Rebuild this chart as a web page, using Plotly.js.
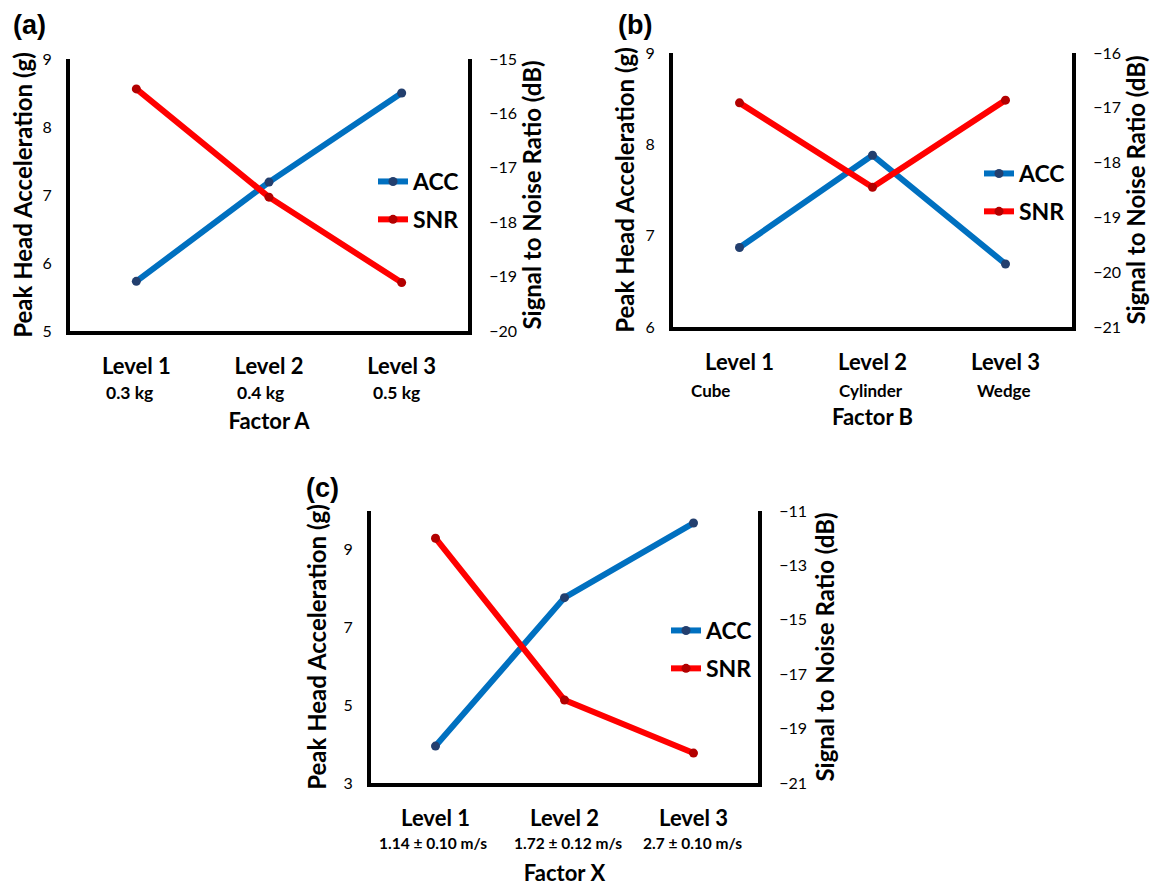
<!DOCTYPE html>
<html>
<head>
<meta charset="utf-8">
<script src="https://cdn.plot.ly/plotly-3.0.1.min.js"></script>
<style>html,body{margin:0;padding:0;background:#fff}#chart{width:1151px;height:887px}</style>
</head>
<body>
<div id="chart"></div>
<script>
// ---- data ----
const levels = ['Level 1', 'Level 2', 'Level 3'];
const subA = ['0.3 kg', '0.4 kg', '0.5 kg'];
const subB = ['Cube', 'Cylinder', 'Wedge'];
const subC = ['1.14 ± 0.10 m/s', '1.72 ± 0.12 m/s', '2.7 ± 0.10 m/s'];
const accA = [5.73, 7.19, 8.50];
const snrA = [-15.55, -17.54, -19.11];
const accB = [6.87, 7.88, 6.69];
const snrB = [-16.91, -18.45, -16.86];
const accC = [3.95, 7.77, 9.69];
const snrC = [-12.0, -17.95, -19.9];
const factorTitles = ['Factor A', 'Factor B', 'Factor X'];
const panelLabels = ['(a)', '(b)', '(c)'];

// ---- styling ----
const W = 1151, H = 887;
const FONT = 'Lato, "Open Sans", sans-serif';
const BLUE = '#0070C0', BLUE_M = '#233F6E';
const RED = '#FF0000', RED_M = '#B30000';

function px(x) { return x / W; }
function py(y) { return 1 - y / H; }

const panels = [
  {acc: accA, snr: snrA, sub: subA, box: [70, 468, 59, 331], left: [5, 9, 1], right: [-20, -15, 1],
   leg: [373, 160], subSize: 17.5, subY: 392, subShift: [-7, -9, -5], lso: 4, rso: 8.5},
  {acc: accB, snr: snrB, sub: subB, box: [673, 1072, 53, 327], left: [6, 9, 1], right: [-21, -16, 1],
   leg: [979, 152], subSize: 17, subY: 390, subShift: [-29, -2, -2], lso: 5, rso: 9.5},
  {acc: accC, snr: snrC, sub: subC, box: [371, 758, 511, 783], left: [3, 10, 2], right: [-21, -11, 2],
   leg: [666, 609], subSize: 15.5, subY: 843, subShift: [-2, 3, -1], lso: 11, rso: 12.5}
];

const data = [];
const layout = {
  width: W, height: H,
  margin: {l: 0, r: 0, t: 0, b: 0},
  paper_bgcolor: '#fff', plot_bgcolor: 'rgba(0,0,0,0)',
  font: {family: FONT, color: '#000'},
  annotations: []
};

panels.forEach((p, i) => {
  const xa = i === 0 ? 'x' : 'x' + (i + 1);
  const yl = i === 0 ? 'y' : 'y' + (2 * i + 1);
  const yr = 'y' + (2 * i + 2);
  const legName = i === 0 ? 'legend' : 'legend' + (i + 1);
  data.push({
    type: 'scatter', mode: 'lines+markers', name: 'ACC',
    x: levels, y: p.acc, xaxis: xa, yaxis: yl, legend: legName, legendgroup: 'acc' + i,
    line: {color: BLUE, width: 6}, marker: {color: BLUE_M, size: 9}
  });
  data.push({
    type: 'scatter', mode: 'lines+markers', name: 'SNR',
    x: levels, y: p.snr, xaxis: xa, yaxis: yr, legend: legName, legendgroup: 'snr' + i,
    line: {color: RED, width: 6}, marker: {color: RED_M, size: 9}
  });
  const [x0, x1, y0, y1] = p.box;
  const xKey = i === 0 ? 'xaxis' : 'xaxis' + (i + 1);
  const ylKey = 'yaxis' + (i === 0 ? '' : (2 * i + 1));
  const yrKey = 'yaxis' + (2 * i + 2);
  layout[xKey] = {
    domain: [px(x0), px(x1)], anchor: yl, type: 'category',
    range: [-0.5, 2.5], showgrid: false, zeroline: false,
    showline: true, linewidth: 4, linecolor: '#000', ticks: '',
    tickvals: levels, ticktext: levels,
    tickfont: {family: FONT, size: 22, weight: 'bold', color: '#000'},
    ticklabelstandoff: 13,
    title: {text: factorTitles[i], font: {family: FONT, size: 22, weight: 'bold', color: '#000'}, standoff: 36},
    fixedrange: true, automargin: false
  };
  layout[ylKey] = {
    domain: [py(y1), py(y0)], anchor: xa, range: [p.left[0], p.left[1]],
    tick0: p.left[0], dtick: p.left[2],
    showgrid: false, zeroline: false, showline: true, linewidth: 4, linecolor: '#000', ticks: '',
    tickfont: {family: FONT, size: 16, color: '#000'}, ticklabelstandoff: 11,
    title: {text: 'Peak Head Acceleration (g)', font: {family: FONT, size: 24, weight: 'bold', color: '#000'}, standoff: p.lso},
    fixedrange: true, automargin: false
  };
  layout[yrKey] = {
    overlaying: yl, side: 'right', anchor: xa, range: [p.right[0], p.right[1]],
    tick0: p.right[0], dtick: p.right[2],
    showgrid: false, zeroline: false, showline: true, linewidth: 4, linecolor: '#000', ticks: '',
    tickfont: {family: FONT, size: 16, color: '#000'}, ticklabelstandoff: 14,
    title: {text: 'Signal to Noise Ratio (dB)', font: {family: FONT, size: 24, weight: 'bold', color: '#000'}, standoff: p.rso},
    fixedrange: true, automargin: false
  };
  layout[legName] = {
    x: px(p.leg[0]), y: py(p.leg[1]), xanchor: 'left', yanchor: 'top',
    bgcolor: 'rgba(0,0,0,0)', borderwidth: 0,
    font: {family: FONT, size: 23, weight: 'bold', color: '#000'},
    traceorder: 'grouped', tracegroupgap: 5
  };
  p.sub.forEach((s, k) => {
    layout.annotations.push({
      text: s, xref: xa, yref: 'paper', x: levels[k], y: py(p.subY),
      xanchor: 'center', yanchor: 'middle', xshift: p.subShift[k], showarrow: false,
      font: {family: FONT, size: p.subSize, weight: 'bold', color: '#000'}
    });
  });
});

const labelPos = [[29, 25], [635, 25], [322, 488]];
panelLabels.forEach((t, i) => {
  layout.annotations.push({
    text: t, xref: 'paper', yref: 'paper', x: px(labelPos[i][0]), y: py(labelPos[i][1]),
    xanchor: 'center', yanchor: 'middle', showarrow: false,
    font: {family: '"Liberation Sans", Arial, sans-serif', size: 27, weight: 'bold', color: '#000'}
  });
});

Plotly.newPlot('chart', data, layout, {displayModeBar: false, staticPlot: true});
</script>
</body>
</html>
